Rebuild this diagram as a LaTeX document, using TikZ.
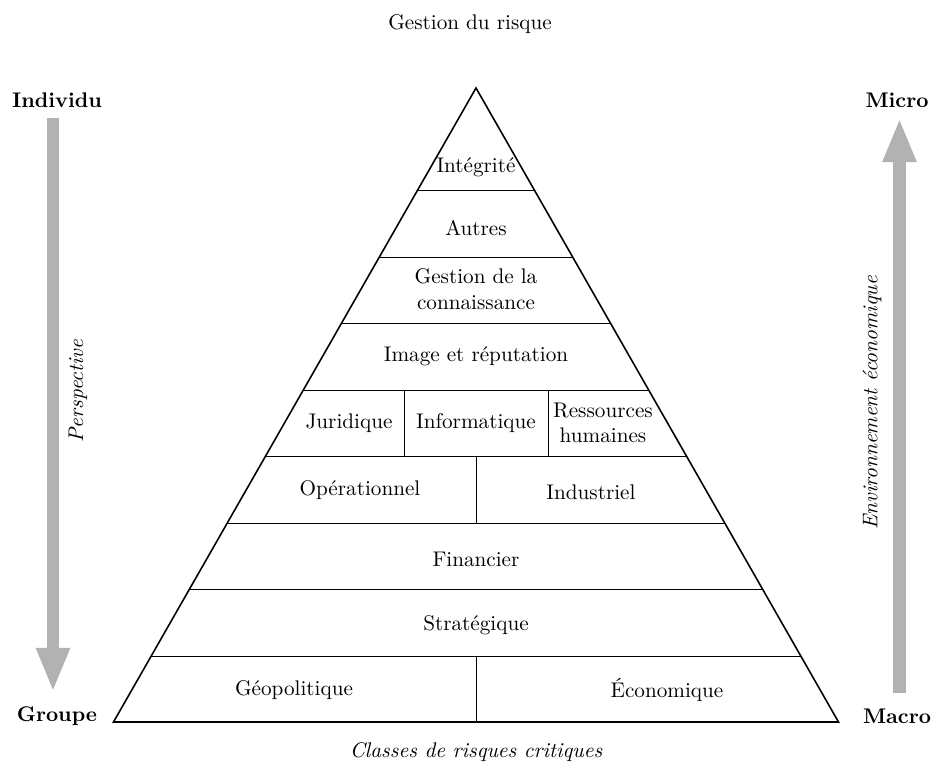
\documentclass[tikz,border=0pt]{standalone}
\usetikzlibrary{calc,arrows.meta}
\begin{document}
\begin{tikzpicture}[x=0.472pt,y=-0.472pt,
  outline/.style={line width=0.75pt,line join=miter},
  band/.style={line width=0.45pt},
  layer/.style={inner sep=0pt,align=center,font=\normalsize},
  side/.style={inner sep=0pt,font=\bfseries},
  axislabel/.style={inner sep=0pt,font=\itshape},
  bigarrow/.style={draw=black!30,line width=5.7pt,
    -{Triangle[width=14.6pt,length=20.8pt]}}]
\useasboundingbox (0,0) rectangle (938,765);

% pyramid outline
\coordinate (apex) at (476,88);
\coordinate (bl) at (113.5,722);
\coordinate (br) at (838.5,722);
\draw[outline] (apex) -- (bl) -- (br) -- cycle;

% horizontal band separators
\foreach \y in {190,257,323,390,456,523,589,656}{
  \draw[band] ($(apex)!{(\y-88)/634}!(bl)$) -- ($(apex)!{(\y-88)/634}!(br)$);
}

% vertical separators inside bands
\draw[band] (476,656) -- (476,722);
\draw[band] (476,456) -- (476,523);
\draw[band] (404,390) -- (404,456);
\draw[band] (548,390) -- (548,456);

% band labels
\node[layer] (integ) at (476,167) {Intégrité};
\node[layer] (autres) at (476,228) {Autres};
\node[layer] (connais) at (476,289) {Gestion de la\\connaissance};
\node[layer] (image) at (476,356) {Image et réputation};
\node[layer] (jur) at (349,423) {Juridique};
\node[layer] (info) at (476,423) {Informatique};
\node[layer] (rh) at (603,423) {Ressources\\humaines};
\node[layer] (oper) at (360,490) {Opérationnel};
\node[layer] (indus) at (591,492) {Industriel};
\node[layer] (fin) at (476,559) {Financier};
\node[layer] (strat) at (476,625) {Stratégique};
\node[layer] (geo) at (294,690) {Géopolitique};
\node[layer] (eco) at (667,690) {Économique};

% titles
\node[inner sep=0pt] (title) at (470,24) {Gestion du risque};
\node[axislabel] (classes) at (476,752) {Classes de risques critiques};

% left axis
\node[side] (indiv) at (57,100) {Individu};
\node[side] (groupe) at (57,716) {Groupe};
\coordinate (lstart) at (53,118);
\coordinate (lend) at (53,692);
\draw[bigarrow] (lstart) -- (lend);
\node[axislabel,rotate=90] (persp) at (78,391) {Perspective};

% right axis
\node[side] (micro) at (897,100) {Micro};
\node[side] (macro) at (897,716) {Macro};
\coordinate (rstart) at (899.5,693);
\coordinate (rend) at (899.5,118);
\draw[bigarrow] (rstart) -- (rend);
\node[axislabel,rotate=90] (envi) at (872,403) {Environnement économique};
\end{tikzpicture}
\end{document}
